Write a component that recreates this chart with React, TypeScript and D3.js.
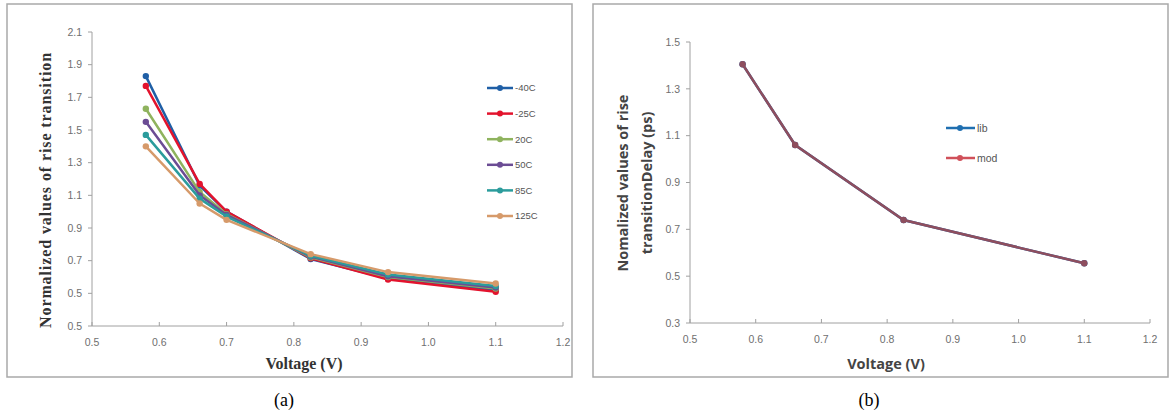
import { useEffect, useRef } from "react";
import * as d3 from "d3";

// Panel (a) data
const voltagesA = [0.58, 0.66, 0.7, 0.825, 0.94, 1.1];
const tempLabels = ["-40C", "-25C", "20C", "50C", "85C", "125C"];
const tempColors = ["#1f5fa6", "#e3132d", "#8fb35e", "#6b4c94", "#2b9c9c", "#d69a6a"];
const tMinus40 = [1.83, 1.16, 1.0, 0.71, 0.59, 0.52];
const tMinus25 = [1.77, 1.17, 1.0, 0.715, 0.585, 0.51];
const t20 = [1.63, 1.12, 0.985, 0.72, 0.6, 0.53];
const t50 = [1.55, 1.1, 0.98, 0.725, 0.605, 0.535];
const t85 = [1.47, 1.08, 0.97, 0.73, 0.615, 0.545];
const t125 = [1.4, 1.05, 0.95, 0.74, 0.63, 0.56];
const seriesA = [tMinus40, tMinus25, t20, t50, t85, t125];
const yTicksA = [0.3, 0.5, 0.7, 0.9, 1.1, 1.3, 1.5, 1.7, 1.9, 2.1];
const yTickLabelsA = ["0.5", "0.5", "0.7", "0.9", "1.1", "1.3", "1.5", "1.7", "1.9", "2.1"];
const xTicks = [0.5, 0.6, 0.7, 0.8, 0.9, 1.0, 1.1, 1.2];

// Panel (b) data
const voltagesB = [0.58, 0.66, 0.825, 1.1];
const libValues = [1.405, 1.06, 0.74, 0.555];
const modValues = [1.405, 1.06, 0.74, 0.555];
const yTicksB = [0.3, 0.5, 0.7, 0.9, 1.1, 1.3, 1.5];

const App = () => {
	const svgRef = useRef<SVGSVGElement>(null);

	useEffect(() => {
		if (!svgRef.current) return;
		const svg = d3.select(svgRef.current);
		svg.selectAll("*").remove();

		svg.append("rect").attr("width", 1171).attr("height", 412).attr("fill", "#fff");

		// panel frames
		svg.append("rect").attr("x", 7).attr("y", 4).attr("width", 565).attr("height", 373)
			.attr("fill", "none").attr("stroke", "#a9a9a9").attr("stroke-width", 1.5);
		svg.append("rect").attr("x", 593).attr("y", 4).attr("width", 575).attr("height", 373)
			.attr("fill", "none").attr("stroke", "#a9a9a9").attr("stroke-width", 1.5);

		const drawAxes = (
			x: d3.ScaleLinear<number, number>,
			y: d3.ScaleLinear<number, number>,
			yTicks: number[],
			yLabels: string[]
		) => {
			const [x0, x1] = x.range();
			const [y0, y1] = y.range();
			const g = svg.append("g");
			g.append("line").attr("x1", x0).attr("x2", x0).attr("y1", y0).attr("y2", y1)
				.attr("stroke", "#a0a0a0").attr("stroke-width", 1);
			g.append("line").attr("x1", x0).attr("x2", x1).attr("y1", y0).attr("y2", y0)
				.attr("stroke", "#a0a0a0").attr("stroke-width", 1);
			yTicks.forEach((t, i) => {
				g.append("line").attr("x1", x0 - 4).attr("x2", x0).attr("y1", y(t)).attr("y2", y(t))
					.attr("stroke", "#a0a0a0");
				g.append("text").attr("x", x0 - 10).attr("y", y(t)).attr("dy", "0.35em")
					.attr("text-anchor", "end").attr("font-family", "Liberation Sans, sans-serif")
					.attr("font-size", 10.5).attr("fill", "#6f6f6f").text(yLabels[i]);
			});
			xTicks.forEach((t) => {
				g.append("line").attr("x1", x(t)).attr("x2", x(t)).attr("y1", y0 - 4).attr("y2", y0)
					.attr("stroke", "#a0a0a0");
				g.append("text").attr("x", x(t)).attr("y", y0 + 20)
					.attr("text-anchor", "middle").attr("font-family", "Liberation Sans, sans-serif")
					.attr("font-size", 10.5).attr("fill", "#6f6f6f").text(d3.format(".1f")(t));
			});
		};

		// ---------- Panel (a)
		const xA = d3.scaleLinear().domain([0.5, 1.2]).range([92, 563]);
		const yA = d3.scaleLinear().domain([0.3, 2.1]).range([326, 32]);
		drawAxes(xA, yA, yTicksA, yTickLabelsA);

		const lineA = d3.line<number>().x((_d, i) => xA(voltagesA[i])).y((d) => yA(d));
		seriesA.forEach((s, k) => {
			svg.append("path").attr("d", lineA(s) || "").attr("fill", "none")
				.attr("stroke", tempColors[k]).attr("stroke-width", 2.5).attr("stroke-linejoin", "round");
			svg.append("g").selectAll("circle").data(s).enter().append("circle")
				.attr("cx", (_d, i) => xA(voltagesA[i])).attr("cy", (d) => yA(d)).attr("r", 3.2)
				.attr("fill", tempColors[k]);
		});

		const legA = svg.append("g");
		tempLabels.forEach((lab, k) => {
			const ly = 88 + k * 25.6;
			legA.append("line").attr("x1", 487).attr("x2", 513).attr("y1", ly).attr("y2", ly)
				.attr("stroke", tempColors[k]).attr("stroke-width", 2.5);
			legA.append("circle").attr("cx", 500).attr("cy", ly).attr("r", 3).attr("fill", tempColors[k]);
			legA.append("text").attr("x", 515).attr("y", ly).attr("dy", "0.35em")
				.attr("font-family", "Liberation Sans, sans-serif").attr("font-size", 9.5)
				.attr("fill", "#555").text(lab);
		});

		svg.append("text").attr("x", 304).attr("y", 369).attr("text-anchor", "middle")
			.attr("font-family", "Liberation Serif, serif").attr("font-weight", "bold")
			.attr("font-size", 16).attr("fill", "#333").text("Voltage (V)");
		svg.append("text").attr("transform", "translate(51,190) rotate(-90)")
			.attr("text-anchor", "middle").attr("font-family", "Liberation Serif, serif")
			.attr("font-weight", "bold").attr("font-size", 16).attr("letter-spacing", 0.9)
			.attr("fill", "#333")
			.text("Normalized  values of rise transition");

		// ---------- Panel (b)
		const xB = d3.scaleLinear().domain([0.5, 1.2]).range([690, 1150]);
		const yB = d3.scaleLinear().domain([0.3, 1.5]).range([323, 42]);
		drawAxes(xB, yB, yTicksB, yTicksB.map((t) => d3.format(".1f")(t)));

		const lineB = d3.line<number>().x((_d, i) => xB(voltagesB[i])).y((d) => yB(d));
		const drawB = (vals: number[], color: string) => {
			svg.append("path").attr("d", lineB(vals) || "").attr("fill", "none")
				.attr("stroke", color).attr("stroke-width", 2.5);
			svg.append("g").selectAll("circle").data(vals).enter().append("circle")
				.attr("cx", (_d, i) => xB(voltagesB[i])).attr("cy", (d) => yB(d)).attr("r", 3.2)
				.attr("fill", color);
		};
		drawB(libValues, "#1f5fa6");
		drawB(modValues, "#8e4e5e");

		const legB = [
			{ label: "lib", color: "#1f6fb0" },
			{ label: "mod", color: "#d0505a" },
		];
		legB.forEach((d, k) => {
			const ly = 128 + k * 30;
			svg.append("line").attr("x1", 946).attr("x2", 975).attr("y1", ly).attr("y2", ly)
				.attr("stroke", d.color).attr("stroke-width", 2.5);
			svg.append("circle").attr("cx", 960).attr("cy", ly).attr("r", 3).attr("fill", d.color);
			svg.append("text").attr("x", 977).attr("y", ly).attr("dy", "0.35em")
				.attr("font-family", "Liberation Sans, sans-serif").attr("font-size", 10.5)
				.attr("fill", "#555").text(d.label);
		});

		svg.append("text").attr("x", 886).attr("y", 369).attr("text-anchor", "middle")
			.attr("font-family", "Open Sans, sans-serif").attr("font-weight", "bold")
			.attr("font-size", 14.5).attr("fill", "#444").text("Voltage (V)");
		const yTitleB = svg.append("text").attr("transform", "translate(628,183) rotate(-90)")
			.attr("text-anchor", "middle").attr("font-family", "Open Sans, sans-serif")
			.attr("font-weight", "bold").attr("font-size", 14.5).attr("fill", "#444");
		yTitleB.append("tspan").attr("x", 0).attr("dy", 0).text("Nomalized values of rise");
		yTitleB.append("tspan").attr("x", 0).attr("dy", 24).text("transitionDelay (ps)");

		// captions
		svg.append("text").attr("x", 284).attr("y", 406).attr("text-anchor", "middle")
			.attr("font-family", "Liberation Serif, serif").attr("font-size", 18)
			.attr("fill", "#000").text("(a)");
		svg.append("text").attr("x", 869).attr("y", 406).attr("text-anchor", "middle")
			.attr("font-family", "Liberation Serif, serif").attr("font-size", 18)
			.attr("fill", "#000").text("(b)");
	}, []);

	return (
		<svg
			ref={svgRef}
			width={1171}
			height={412}
			style={{ position: "absolute", left: 0, top: 0 }}
		/>
	);
};

export default App;
